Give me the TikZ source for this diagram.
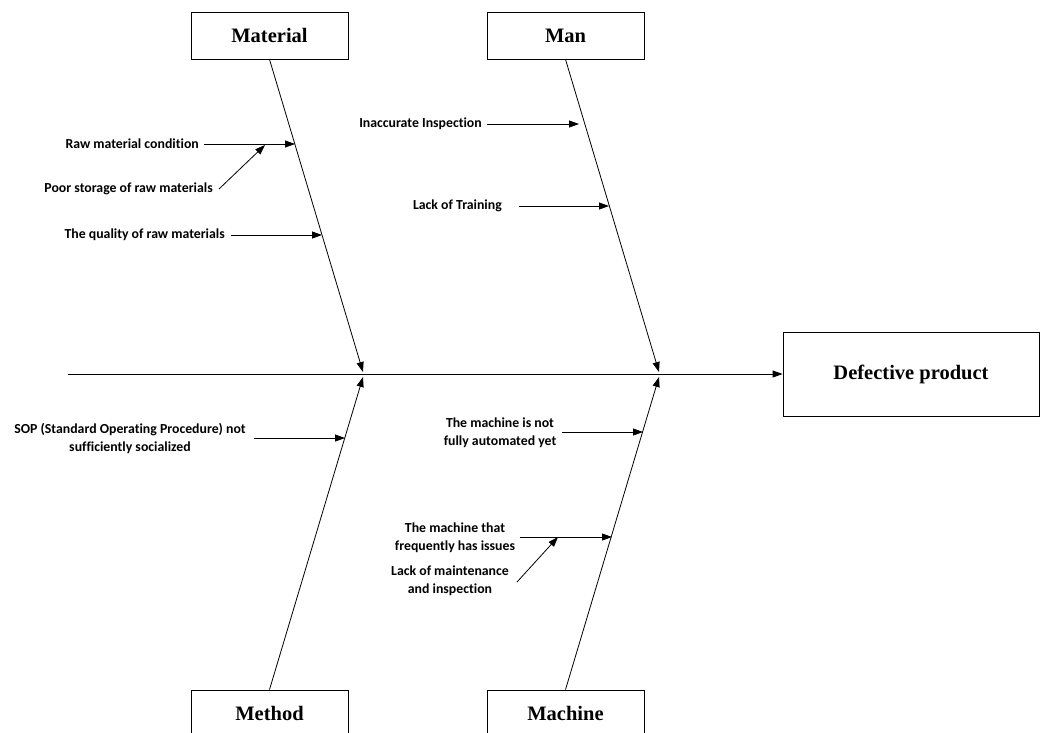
\documentclass[tikz,border=0pt]{standalone}
\usepackage{fontspec}
\setmainfont{Liberation Serif}
\newfontfamily\lblfont[Ligatures=NoCommon]{Carlito}
\usetikzlibrary{arrows.meta}
\begin{document}
\begin{tikzpicture}[x=1pt,y=-1pt,
  catbox/.style={draw,line width=0.8pt,minimum width=157pt,minimum height=47pt,inner sep=0pt,font=\fontsize{20.5}{24}\selectfont\bfseries},
  lbl/.style={inner sep=0pt,align=center,font=\lblfont\fontsize{13.8}{18}\selectfont\bfseries},
  arr/.style={line width=0.8pt,-{Triangle[length=10pt,width=7pt]}},
  bone/.style={line width=0.8pt,-{Triangle[length=10pt,width=7pt]}}]
\useasboundingbox (0,0) rectangle (1056,732);
% category boxes
\node[catbox] (mat) at (269.5,35.5) {Material};
\node[catbox] (man) at (565.5,35.5) {Man};
\node[catbox] (meth) at (269.5,713.5) {Method};
\node[catbox] (mach) at (565.5,713.5) {Machine};
\node[catbox,minimum width=256pt,minimum height=84pt] (def) at (911,374) {Defective product};
% spine
\coordinate (tail) at (68,374);
\draw[arr] (tail) -- (def.west);
% bone ends
\coordinate (matE) at (363,372);
\coordinate (methE) at (363,377);
\coordinate (manE) at (659,372);
\coordinate (machE) at (659,377);
\draw[bone] (mat.south) -- (matE);
\draw[bone] (meth.north) -- (methE);
\draw[bone] (man.south) -- (manE);
\draw[bone] (mach.north) -- (machE);
% cause labels
\node[lbl,anchor=east] (raw) at (199,144) {Raw material condition};
\node[lbl,anchor=east] (poor) at (213,189) {Poor storage of raw materials};
\node[lbl,anchor=east] (qual) at (225,235) {The quality of raw materials};
\node[lbl,anchor=east] (insp) at (482,124) {Inaccurate Inspection};
\node[lbl,anchor=east] (train) at (502,206) {Lack of Training};
\node[lbl] (sop) at (130,438) {SOP (Standard Operating Procedure) not\\sufficiently socialized};
\node[lbl] (auto) at (500,433) {The machine is not\\fully automated yet};
\node[lbl] (issue) at (455,537.5) {The machine that\\frequently has issues};
\node[lbl] (maint) at (450,581) {Lack of maintenance\\and inspection};
% points on bones
\coordinate (pRaw) at (295,144);
\coordinate (pPoor) at (265,145);
\coordinate (pQual) at (322,235);
\coordinate (pInsp) at (579,124);
\coordinate (pTrain) at (609,206);
\coordinate (pSop) at (345,438);
\coordinate (pAuto) at (643,432);
\coordinate (pIssue) at (612,537);
\coordinate (pMaint) at (558,537);
% start points of cause arrows
\coordinate (sRaw) at (204,144);
\coordinate (sPoor) at (219,189);
\coordinate (sQual) at (231,235);
\coordinate (sInsp) at (487,124);
\coordinate (sTrain) at (519,206);
\coordinate (sSop) at (254,438);
\coordinate (sAuto) at (562,432);
\coordinate (sIssue) at (520,537);
\coordinate (sMaint) at (517,582);
% cause arrows
\draw[arr] (sRaw) -- (pRaw);
\draw[arr] (sPoor) -- (pPoor);
\draw[arr] (sQual) -- (pQual);
\draw[arr] (sInsp) -- (pInsp);
\draw[arr] (sTrain) -- (pTrain);
\draw[arr] (sSop) -- (pSop);
\draw[arr] (sAuto) -- (pAuto);
\draw[arr] (sIssue) -- (pIssue);
\draw[arr] (sMaint) -- (pMaint);
\end{tikzpicture}
\end{document}
